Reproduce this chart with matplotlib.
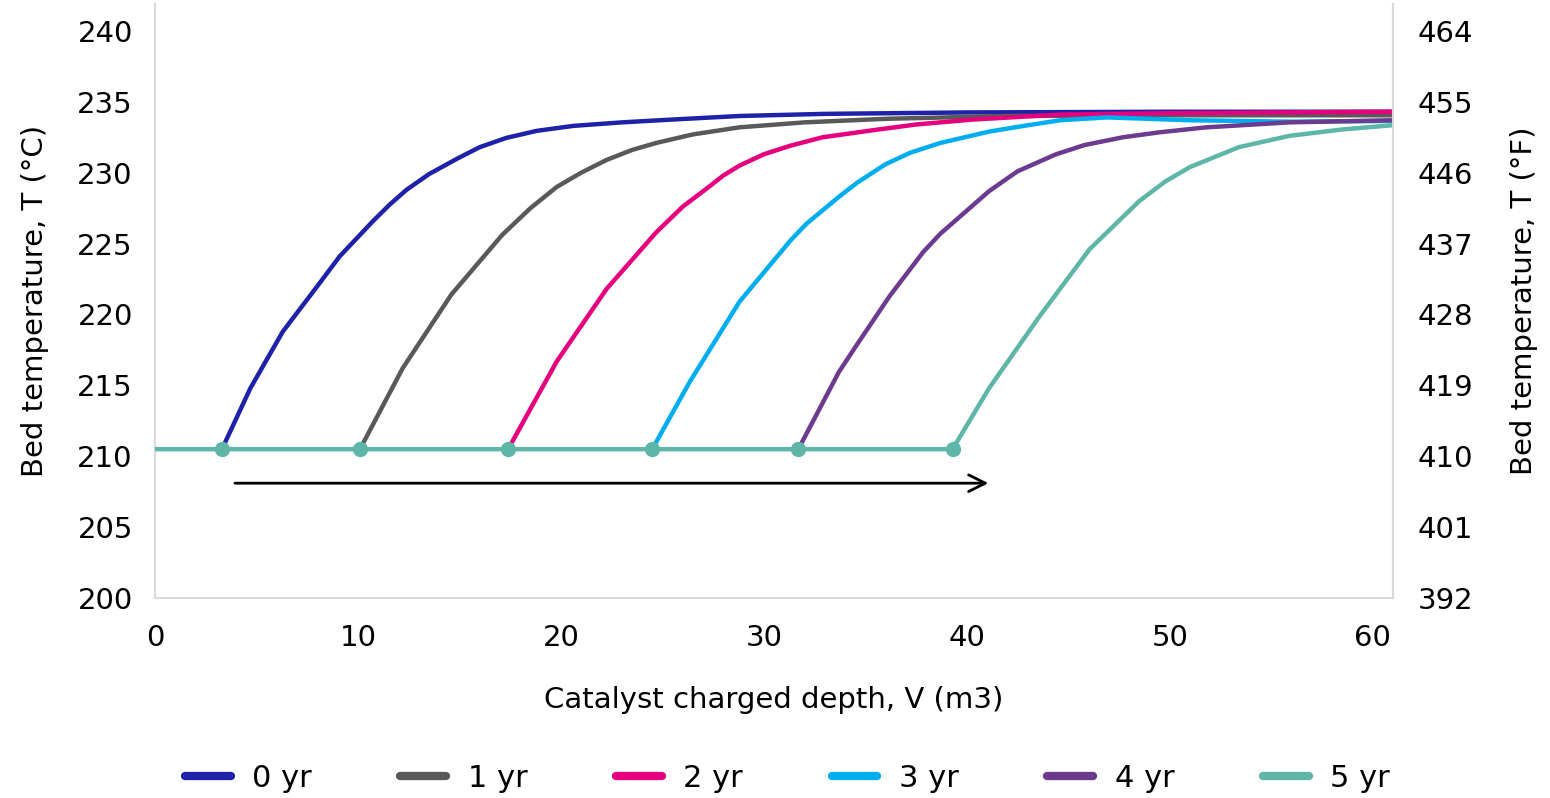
import matplotlib.pyplot as plt
import numpy as np

# Bed temperature profiles (deg C) vs catalyst charged depth
labels = ['0 yr', '1 yr', '2 yr', '3 yr', '4 yr', '5 yr']
colors = ['#1f22a8', '#595959', '#e5007d', '#00aeef', '#6c3a8e', '#5eb6a8']

x0 = [3.3, 4.7, 6.3, 8.0, 9.1, 10.75, 11.6, 12.4, 13.5, 14.9, 16.0, 17.3, 18.8, 20.6, 23.0, 25.5,
      28.8, 33.0, 40.0, 50.0, 61.0]
y0 = [210.5, 214.8, 218.8, 222.0, 224.1, 226.6, 227.8, 228.8, 229.9, 231.0, 231.8, 232.45, 232.95,
      233.3, 233.55, 233.75, 234.0, 234.15, 234.25, 234.3, 234.3]

x1 = [10.1, 12.2, 14.6, 17.1, 18.5, 19.8, 21.0, 22.25, 23.5, 24.7, 26.5, 28.8, 32.0, 36.0, 42.0,
      50.0, 61.0]
y1 = [210.5, 216.2, 221.4, 225.6, 227.5, 229.0, 230.0, 230.9, 231.6, 232.1, 232.7, 233.2, 233.55,
      233.8, 234.0, 234.05, 234.05]

x2 = [17.4, 19.8, 22.25, 24.7, 26.0, 27.2, 28.0, 28.8, 30.0, 31.3, 32.9, 35.4, 37.5, 40.3, 44.6,
      50.0, 61.0]
y2 = [210.5, 216.7, 221.8, 225.8, 227.6, 228.9, 229.8, 230.5, 231.3, 231.9, 232.5, 233.0, 233.4,
      233.75, 234.1, 234.2, 234.3]

x3 = [24.5, 26.35, 28.8, 31.3, 32.1, 33.7, 34.6, 36.0, 37.2, 38.7, 41.1, 42.8, 44.6, 46.9, 51.0,
      55.9, 61.0]
y3 = [210.5, 215.25, 220.9, 225.2, 226.4, 228.3, 229.3, 230.6, 231.4, 232.1, 232.9, 233.3, 233.7,
      233.9, 233.7, 233.6, 233.65]

x4 = [31.7, 33.7, 34.6, 36.2, 37.85, 38.7, 41.1, 42.5, 44.4, 45.8, 47.7, 49.5, 51.8, 55.9, 61.0]
y4 = [210.5, 215.95, 217.9, 221.3, 224.4, 225.7, 228.7, 230.1, 231.3, 231.95, 232.5, 232.85, 233.2,
      233.55, 233.7]

# 5 yr also carries the flat inlet line with the onset points
x5 = [0.0, 3.3, 10.1, 17.4, 24.5, 31.7, 39.3, 41.1, 43.6, 46.05, 48.5, 49.8, 51.0, 53.4, 55.9,
      58.5, 61.0]
y5 = [210.5, 210.5, 210.5, 210.5, 210.5, 210.5, 210.5, 214.8, 219.9, 224.6, 228.0, 229.4, 230.4,
      231.8, 232.6, 233.05, 233.35]

xs = [x0, x1, x2, x3, x4, x5]
ys = [y0, y1, y2, y3, y4, y5]

c_ticks = [200, 205, 210, 215, 220, 225, 230, 235, 240]
f_ticks = [392, 401, 410, 419, 428, 437, 446, 455, 464]
x_ticks = [0, 10, 20, 30, 40, 50, 60]

fig = plt.figure(figsize=(15.5, 7.98), dpi=100)
ax = fig.add_axes([0.1, 0.2506, 0.7987, 0.7444])

for i in range(6):
    if i == 5:
        ax.plot(xs[i], ys[i], color=colors[i], lw=3.2, label=labels[i],
                marker='o', markersize=10, markevery=[1, 2, 3, 4, 5, 6],
                solid_joinstyle='round', zorder=3)
    else:
        ax.plot(xs[i], ys[i], color=colors[i], lw=3.2, label=labels[i],
                solid_joinstyle='round', zorder=2)

# arrow showing the shift with time
ax.annotate('', xy=(41.2, 208.1), xytext=(3.8, 208.1),
            arrowprops=dict(arrowstyle='->', color='black', lw=2, mutation_scale=30))

ymin, ymax = 200, 241.9
ax.set_xlim(0, 61)
ax.set_ylim(ymin, ymax)
ax.set_xticks(x_ticks)
ax.set_yticks(c_ticks)
ax.tick_params(length=0, labelsize=21, pad=16)
ax.tick_params(axis='x', pad=19)
ax.spines['top'].set_visible(False)
for s in ['left', 'bottom', 'right']:
    ax.spines[s].set_color('#d9d9d9')
    ax.spines[s].set_linewidth(1.5)
ax.set_ylabel('Bed temperature, T (°C)', fontsize=21, labelpad=20)
ax.set_xlabel('Catalyst charged depth, V (m3)', fontsize=21, labelpad=24)

ax2 = ax.twinx()
ax2.set_ylim(ymin * 1.8 + 32, ymax * 1.8 + 32)
ax2.set_yticks(f_ticks)
ax2.tick_params(length=0, labelsize=21, pad=18)
for s in ['top', 'left', 'bottom']:
    ax2.spines[s].set_visible(False)
ax2.spines['right'].set_color('#d9d9d9')
ax2.spines['right'].set_linewidth(1.5)
ax2.set_ylabel('Bed temperature, T (°F)', fontsize=21, labelpad=26)

handles = [plt.Line2D([], [], color=c, lw=6, solid_capstyle='round') for c in colors]
fig.legend(handles, labels, loc='center', bbox_to_anchor=(0.508, 0.025), ncol=6,
           frameon=False, fontsize=22, handlelength=1.5, handletextpad=0.7,
           columnspacing=2.9)

fig.savefig('out.png', dpi=100)
